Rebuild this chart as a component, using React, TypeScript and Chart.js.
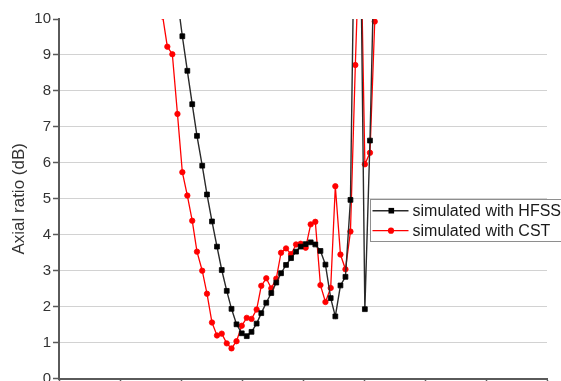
import React, { useEffect, useRef } from "react";
import { Chart, registerables } from "chart.js";

Chart.register(...registerables);

// Frequency (GHz) of each simulated sample (x axis labels are cut off in the reference)
const freqGHz = [
  2.85, 2.888, 2.929, 2.971, 3.011, 3.052, 3.092, 3.131, 3.174, 3.213,
  3.254, 3.295, 3.334, 3.375, 3.414, 3.455, 3.498, 3.539, 3.578, 3.62,
  3.658, 3.699, 3.74, 3.781, 3.82, 3.861, 3.902, 3.943, 3.981, 4.022,
  4.063, 4.101, 4.143, 4.184, 4.227, 4.265, 4.307, 4.348, 4.389, 4.429,
  4.47, 4.507, 4.549, 4.588,
];

const hfssAR: (number | null)[] = [
  null, null, null, 10.55, 9.52, 8.56, 7.63, 6.75, 5.92, 5.12,
  4.37, 3.67, 3.02, 2.44, 1.94, 1.51, 1.26, 1.18, 1.3, 1.53,
  1.82, 2.11, 2.38, 2.67, 2.93, 3.16, 3.35, 3.53, 3.67, 3.74,
  3.79, 3.73, 3.55, 3.17, 2.24, 1.73, 2.59, 2.83, 4.97, 14.6,
  13.0, 1.93, 6.62, 12.3,
];

const cstAR: (number | null)[] = [
  10.07, 9.23, 9.02, 7.36, 5.74, 5.09, 4.39, 3.53, 3.0, 2.36,
  1.56, 1.2, 1.25, 0.98, 0.84, 1.04, 1.47, 1.69, 1.66, 1.92,
  2.58, 2.79, 2.51, 2.78, 3.5, 3.62, 3.46, 3.73, 3.75, 3.64,
  4.29, 4.36, 2.6, 2.13, 2.52, 5.35, 3.45, 3.04, 4.09, 8.72,
  13.0, 5.96, 6.28, 9.93,
];

const seriesNames = ["simulated with HFSS", "simulated with CST"];
const yTitle = "Axial ratio (dB)";
const xRange = [2.0, 6.0];
const xStep = 0.5;
const yRange = [0, 10];
const yStep = 1;

const FONT = "'Liberation Sans', Arial, Helvetica, sans-serif";

function toPoints(ys: (number | null)[]) {
  const out: { x: number; y: number }[] = [];
  ys.forEach((y, i) => {
    if (y !== null) out.push({ x: freqGHz[i], y });
  });
  return out;
}

const boxLegend = {
  id: "boxLegend",
  afterDatasetsDraw(chart: any) {
    const ctx = chart.ctx as CanvasRenderingContext2D;
    const left = 370.5;
    const top = 199.5;
    const bottom = 241.5;
    ctx.save();
    ctx.fillStyle = "#ffffff";
    ctx.fillRect(left, top, 600 - left, bottom - top);
    ctx.strokeStyle = "#8e8e8e";
    ctx.lineWidth = 1;
    ctx.strokeRect(left, top, 600 - left, bottom - top);
    const rows = [210.7, 230.7];
    chart.data.datasets.forEach((ds: any, i: number) => {
      const cy = rows[i];
      ctx.strokeStyle = ds.borderColor;
      ctx.lineWidth = ds.borderWidth;
      ctx.beginPath();
      ctx.moveTo(372.5, cy);
      ctx.lineTo(408.5, cy);
      ctx.stroke();
      ctx.fillStyle = ds.pointBackgroundColor;
      if (ds.pointStyle === "rect") {
        ctx.fillRect(388.5, cy - 2.8, 5.6, 5.6);
      } else {
        ctx.beginPath();
        ctx.arc(391, cy, 3.1, 0, Math.PI * 2);
        ctx.fill();
      }
      ctx.fillStyle = "#1a1a1a";
      ctx.font = `16px ${FONT}`;
      ctx.textAlign = "left";
      ctx.textBaseline = "middle";
      ctx.fillText(ds.label, 412.5, cy + 0.5);
    });
    ctx.restore();
  },
};

export default function App() {
  const ref = useRef<HTMLCanvasElement | null>(null);

  useEffect(() => {
    if (!ref.current) return;
    const chart = new Chart(ref.current, {
      type: "line",
      data: {
        datasets: [
          {
            label: seriesNames[0],
            data: toPoints(hfssAR),
            borderColor: "#2a2a2a",
            borderWidth: 1.4,
            pointStyle: "rect",
            pointRadius: 3.4,
            pointBorderWidth: 0.8,
            pointBackgroundColor: "#000000",
            pointBorderColor: "#000000",
            tension: 0,
            clip: 0,
          } as any,
          {
            label: seriesNames[1],
            data: toPoints(cstAR),
            borderColor: "#ff0000",
            borderWidth: 1.3,
            pointStyle: "circle",
            pointRadius: 2.7,
            pointBorderWidth: 0.8,
            pointBackgroundColor: "#ff0000",
            pointBorderColor: "#ff0000",
            tension: 0,
            clip: 0,
          } as any,
        ],
      },
      options: {
        animation: false,
        responsive: false,
        maintainAspectRatio: false,
        devicePixelRatio: 1,
        layout: { padding: { left: 5, right: 14, top: 19, bottom: 0 } },
        plugins: {
          legend: { display: false },
          tooltip: { enabled: false },
        },
        scales: {
          x: {
            type: "linear",
            min: xRange[0],
            max: xRange[1],
            ticks: {
              stepSize: xStep,
              color: "#333333",
              font: { family: FONT, size: 15 },
              padding: 3,
            },
            grid: {
              display: true,
              drawOnChartArea: false,
              drawTicks: true,
              tickLength: 6,
              tickColor: "#5a5a5a",
              tickWidth: 1.5,
            },
            border: { display: true, color: "#5a5a5a", width: 2 },
            afterFit: (s: any) => {
              s.height = 41.4;
            },
          },
          y: {
            type: "linear",
            min: yRange[0],
            max: yRange[1],
            ticks: {
              stepSize: yStep,
              color: "#333333",
              font: { family: FONT, size: 15 },
              padding: 2,
            },
            grid: {
              display: true,
              drawOnChartArea: true,
              drawTicks: true,
              tickLength: 6,
              color: (c: any) =>
                c.tick && (c.tick.value === 10 || c.tick.value === 0)
                  ? "rgba(0,0,0,0)"
                  : "#d2d2d2",
              tickColor: "#5a5a5a",
              lineWidth: 1,
              tickWidth: 1.5,
            },
            border: { display: true, color: "#5a5a5a", width: 2 },
            title: {
              display: true,
              text: yTitle,
              color: "#333333",
              font: { family: FONT, size: 17 },
              padding: { top: 4, bottom: 4 },
            },
            afterFit: (s: any) => {
              s.width = 54;
            },
          },
        },
      },
      plugins: [boxLegend],
    });
    return () => chart.destroy();
  }, []);

  return (
    <div
      style={{
        position: "fixed",
        left: 0,
        top: 0,
        width: 561,
        height: 381,
        overflow: "hidden",
        background: "#ffffff",
      }}
    >
      <canvas
        ref={ref}
        width={561}
        height={420}
        style={{ display: "block", width: 561, height: 420 }}
      />
    </div>
  );
}
